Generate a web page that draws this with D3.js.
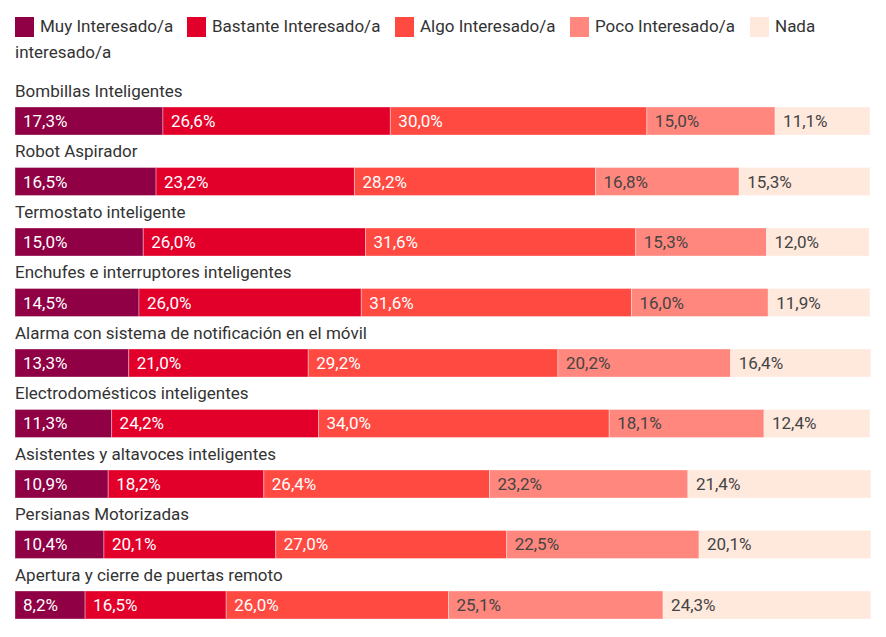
<!DOCTYPE html>
<html><head><meta charset="utf-8">
<script src="https://cdn.jsdelivr.net/npm/d3@7"></script>
<style>body{margin:0;background:#fff;font-family:Roboto,sans-serif}</style>
</head><body><svg id="c" width="886" height="637"></svg>
<script>
const categories = ["Bombillas Inteligentes","Robot Aspirador","Termostato inteligente","Enchufes e interruptores inteligentes","Alarma con sistema de notificación en el móvil","Electrodomésticos inteligentes","Asistentes y altavoces inteligentes","Persianas Motorizadas","Apertura y cierre de puertas remoto"];
const seriesNames = ["Muy Interesado/a","Bastante Interesado/a","Algo Interesado/a","Poco Interesado/a","Nada interesado/a"];
const muy = [17.3,16.5,15.0,14.5,13.3,11.3,10.9,10.4,8.2];
const bastante = [26.6,23.2,26.0,26.0,21.0,24.2,18.2,20.1,16.5];
const algo = [30.0,28.2,31.6,31.6,29.2,34.0,26.4,27.0,26.0];
const poco = [15.0,16.8,15.3,16.0,20.2,18.1,23.2,22.5,25.1];
const nada = [11.1,15.3,12.0,11.9,16.4,12.4,21.4,20.1,24.3];
const colors = ["#8f0044","#e2002a","#ff4a42","#ff877d","#ffe8dc"];
const textColors = ["#fff","#fff","#fff","#444","#444"];

const seriesVals = [muy,bastante,algo,poco,nada];
const rows = categories.map((c,i)=>{const o={cat:c}; seriesNames.forEach((s,j)=>o[s]=seriesVals[j][i]); return o;});
const stack = d3.stack().keys(seriesNames)(rows);

const svg = d3.select("#c");
const x = d3.scaleLinear().domain([0,100]).range([15,870]);
const y = d3.scaleBand().domain(categories).range([107,619]).paddingInner(0.537).paddingOuter(0);
const bw = y.bandwidth();

// legend
const leg = svg.append("g");
const legX = [15,187,395,570,750];
seriesNames.forEach((s,i)=>{
  leg.append("rect").attr("x",legX[i]).attr("y",17).attr("width",19).attr("height",20).attr("fill",colors[i]);
});
const legText = ["Muy Interesado/a","Bastante Interesado/a","Algo Interesado/a","Poco Interesado/a","Nada"];
legText.forEach((t,i)=>{
  leg.append("text").attr("x",legX[i]+25).attr("y",32).attr("font-size",17).attr("fill","#333").text(t);
});
leg.append("text").attr("x",15).attr("y",58).attr("font-size",17).attr("fill","#333").text("interesado/a");

// category labels
svg.append("g").selectAll("text").data(categories).join("text")
  .attr("x",15).attr("y",d=>y(d)-10).attr("font-size",17).attr("fill","#333").text(d=>d);

// bars
stack.forEach((layer,li)=>{
  const g = svg.append("g");
  g.selectAll("rect").data(layer).join("rect")
    .attr("x",d=>x(d[0])).attr("y",d=>y(d.data.cat)).attr("width",d=>x(d[1])-x(d[0])).attr("height",bw)
    .attr("fill",colors[li]).attr("stroke","rgba(255,255,255,0.35)").attr("stroke-width",1);
  g.selectAll("text").data(layer).join("text")
    .attr("x",d=>x(d[0])+8).attr("y",d=>y(d.data.cat)+bw/2+6)
    .attr("font-size",17).attr("fill",textColors[li])
    .text(d=>(d[1]-d[0]).toFixed(1).replace(".",",")+"%");
});
</script></body></html>
